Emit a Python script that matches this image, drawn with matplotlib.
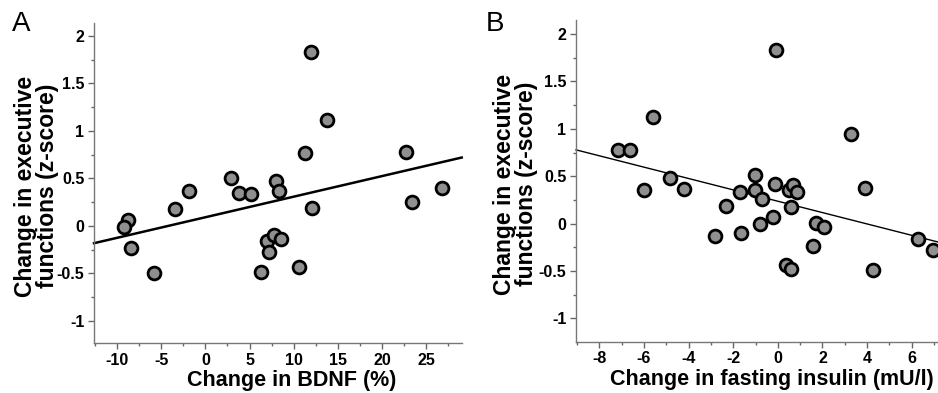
import numpy as np
import matplotlib
matplotlib.use("Agg")
import matplotlib.pyplot as plt
from matplotlib.ticker import MultipleLocator

plt.rcParams['font.family'] = ['Liberation Sans', 'DejaVu Sans']
plt.rcParams['font.weight'] = 'bold'

# panel A: change in BDNF (%) vs change in executive functions
bdnf = [11.94, 13.77, 11.27, 22.69, 26.81, 23.33, 12.02, 2.85, 3.82, 5.17, 7.94, 8.31,
        -1.83, -3.48, -8.80, -9.21, -8.46, -5.84, 6.93, 7.71, 8.57, 7.19, 6.33, 10.6]
ef_a = [1.83, 1.12, 0.766, 0.773, 0.397, 0.249, 0.183, 0.506, 0.348, 0.334, 0.471, 0.369,
        0.365, 0.176, 0.063, -0.014, -0.239, -0.499, -0.162, -0.102, -0.137, -0.281, -0.488, -0.436]
fit_a = (0.0217, 0.090)   # slope, intercept

# panel B: change in fasting insulin (mU/l) vs change in executive functions
insulin = [-0.09, -5.61, 3.30, -7.18, -6.61, -4.82, -6.01, -4.20, -1.03, -1.70, -1.03, -0.72,
           -2.32, -0.12, 0.48, 0.66, 0.88, 0.57, 3.89, -0.22, -0.79, -2.83, -1.63, 1.73,
           2.09, 1.59, 0.37, 0.57, 4.26, 6.27, 6.97]
ef_b = [1.835, 1.125, 0.942, 0.780, 0.773, 0.478, 0.359, 0.369, 0.517, 0.330, 0.351, 0.257,
        0.190, 0.415, 0.351, 0.404, 0.334, 0.179, 0.376, 0.067, -0.007, -0.127, -0.102, 0.004,
        -0.035, -0.235, -0.436, -0.482, -0.492, -0.158, -0.278]
fit_b = (-0.0599, 0.236)

W, H = 938, 393
fig = plt.figure(figsize=(W / 100, H / 100), dpi=100)

def px(l, r, t, b):
    return [l / W, 1 - b / H, (r - l) / W, (b - t) / H]

axA = fig.add_axes(px(94, 461.7, 22.7, 343))
axB = fig.add_axes(px(576, 940, 20, 341.7))

ylab = 'Change in executive\nfunctions (z-score)'
panels = [
    (axA, bdnf, ef_a, fit_a, (-12.6, 29.0), (-1.235, 2.14), 5, 2.5, 'Change in BDNF (%)', 1.8, -0.095),
    (axB, insulin, ef_b, fit_b, (-9.05, 7.27), (-1.246, 2.148), 2, 1, 'Change in fasting insulin (mU/l)', 1.0, -0.105),
]

for ax, x, y, fit, xl, yl, xmaj, xmin, xlabel, lw, ylx in panels:
    ax.set_xlim(xl)
    ax.set_ylim(yl)
    xs = np.array(xl)
    ax.plot(xs, fit[0] * xs + fit[1], color='black', lw=lw, zorder=2, clip_on=False)
    ax.scatter(x, y, s=85, facecolor='#8f8f8f', edgecolor='black', linewidth=2.0, zorder=3,
               clip_on=False)
    for s in ['top', 'right']:
        ax.spines[s].set_visible(False)
    for s in ['left', 'bottom']:
        ax.spines[s].set_color('#777777')
        ax.spines[s].set_linewidth(1)
    ax.xaxis.set_major_locator(MultipleLocator(xmaj))
    ax.xaxis.set_minor_locator(MultipleLocator(xmin))
    ax.yaxis.set_minor_locator(MultipleLocator(0.25))
    ax.set_yticks([-1, -0.5, 0, 0.5, 1, 1.5, 2])
    ax.set_yticklabels(['-1', '-0.5', '0', '0.5', '1', '1.5', '2'])
    ax.xaxis.set_major_formatter(plt.FuncFormatter(lambda v, p: '%g' % v))
    ax.tick_params(which='major', length=4, width=1, color='#666666', pad=3, labelsize=11.5)
    ax.tick_params(which='minor', length=2.5, width=1, color='#666666')
    ax.set_xlabel(xlabel, fontsize=15.5, fontweight='bold')
    ax.xaxis.set_label_coords(0.538, -0.085)
    ax.set_ylabel(ylab, fontsize=16.5, fontweight='bold', linespacing=0.95)
    ax.yaxis.set_label_coords(ylx, 0.49)

fig.text(12 / W, 1 - 31 / H, 'A', fontsize=20, fontweight='normal')
fig.text(486 / W, 1 - 31 / H, 'B', fontsize=20, fontweight='normal')

fig.savefig('out.png', dpi=100)
